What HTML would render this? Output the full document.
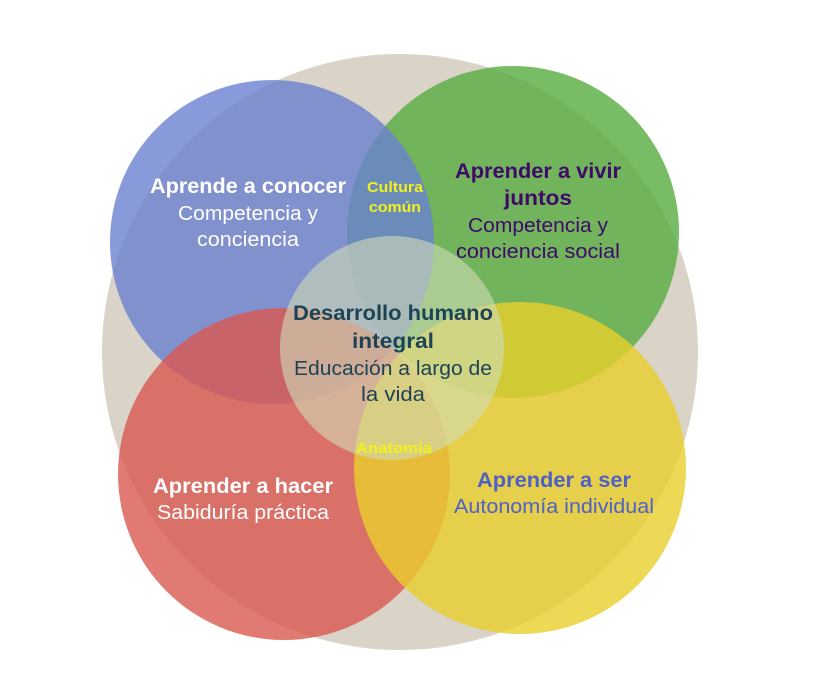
<!DOCTYPE html>
<html><head><meta charset="utf-8"><style>
html,body{margin:0;padding:0;background:#fff;width:826px;height:692px;overflow:hidden}
svg text{font-family:"Liberation Sans",sans-serif;text-anchor:middle}
</style></head><body>
<svg width="826" height="692" viewBox="0 0 826 692" xmlns="http://www.w3.org/2000/svg">
<circle cx="400" cy="352" r="298" fill="#d9d3c8"/>
<circle cx="513" cy="232" r="166" fill="#5aad44" fill-opacity="0.82"/>
<circle cx="272" cy="242" r="162" fill="#6a81cf" fill-opacity="0.8"/>
<circle cx="284" cy="474" r="166" fill="#d95950" fill-opacity="0.8"/>
<circle cx="520" cy="468" r="166" fill="#e8cf2c" fill-opacity="0.8"/>
<circle cx="392" cy="348" r="112" fill="#d0dcb8" fill-opacity="0.6"/>

<g lengthAdjust="spacingAndGlyphs">
<text x="248" y="193" font-size="21" font-weight="bold" fill="#fff" textLength="196" lengthAdjust="spacingAndGlyphs">Aprende a conocer</text>
<text x="248" y="220" font-size="20" fill="#fff" textLength="140" lengthAdjust="spacingAndGlyphs">Competencia y</text>
<text x="248" y="246" font-size="20" fill="#fff" textLength="102" lengthAdjust="spacingAndGlyphs">conciencia</text>

<text x="395" y="192" font-size="15" font-weight="bold" fill="#f2f21a" textLength="56" lengthAdjust="spacingAndGlyphs">Cultura</text>
<text x="395" y="212" font-size="15" font-weight="bold" fill="#f2f21a" textLength="52" lengthAdjust="spacingAndGlyphs">común</text>

<text x="538" y="178" font-size="21" font-weight="bold" fill="#3f0a6a" textLength="166" lengthAdjust="spacingAndGlyphs">Aprender a vivir</text>
<text x="538" y="205" font-size="21" font-weight="bold" fill="#3f0a6a" textLength="68" lengthAdjust="spacingAndGlyphs">juntos</text>
<text x="538" y="232" font-size="20" fill="#3f0a6a" textLength="140" lengthAdjust="spacingAndGlyphs">Competencia y</text>
<text x="538" y="258" font-size="20" fill="#3f0a6a" textLength="164" lengthAdjust="spacingAndGlyphs">conciencia social</text>

<text x="393" y="320" font-size="21" font-weight="bold" fill="#1e4356" textLength="200" lengthAdjust="spacingAndGlyphs">Desarrollo humano</text>
<text x="393" y="348" font-size="21" font-weight="bold" fill="#1e4356" textLength="82" lengthAdjust="spacingAndGlyphs">integral</text>
<text x="393" y="375" font-size="20" fill="#1e4356" textLength="198" lengthAdjust="spacingAndGlyphs">Educación a largo de</text>
<text x="393" y="401" font-size="20" fill="#1e4356" textLength="64" lengthAdjust="spacingAndGlyphs">la vida</text>

<text x="394" y="453" font-size="15" font-weight="bold" fill="#f2f21a" textLength="76" lengthAdjust="spacingAndGlyphs">Anatomía</text>

<text x="243" y="493" font-size="21" font-weight="bold" fill="#fff" textLength="180" lengthAdjust="spacingAndGlyphs">Aprender a hacer</text>
<text x="243" y="519" font-size="20" fill="#fff" textLength="172" lengthAdjust="spacingAndGlyphs">Sabiduría práctica</text>

<text x="554" y="487" font-size="21" font-weight="bold" fill="#5060c4" textLength="154" lengthAdjust="spacingAndGlyphs">Aprender a ser</text>
<text x="554" y="513" font-size="20" fill="#5060c4" textLength="200" lengthAdjust="spacingAndGlyphs">Autonomía individual</text>
</g>
</svg>
</body></html>
